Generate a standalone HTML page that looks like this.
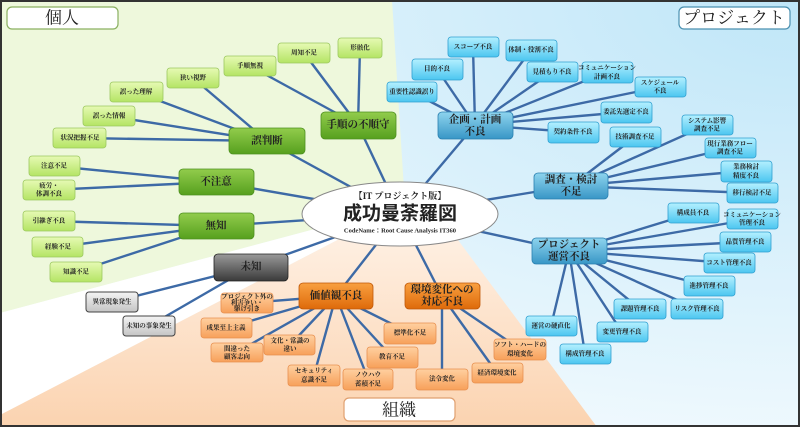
<!DOCTYPE html>
<html><head><meta charset="utf-8"><style>
html,body{margin:0;padding:0;background:#fff}
svg{display:block}
text{font-family:"Liberation Serif","Noto Serif CJK JP","Noto Serif CJK SC",serif;text-anchor:middle;dominant-baseline:central;fill:#222}
.s{font-size:6.5px;font-weight:bold}
.m{font-size:10.5px;font-weight:bold}
.L{font-size:17px}
.gs{fill:url(#gS);stroke:#9cc860;stroke-width:.8}
.gm{fill:url(#gM);stroke:#4e9020;stroke-width:.8}
.bs{fill:url(#bS);stroke:#30a0d0;stroke-width:.8}
.bm{fill:url(#bM);stroke:#2a80b0;stroke-width:.8}
.os{fill:url(#oS);stroke:#e89050;stroke-width:.8}
.om{fill:url(#oM);stroke:#c05808;stroke-width:.8}
.ys{fill:url(#yS);stroke:#444;stroke-width:1}
.ln line{stroke:#3d6aa6;stroke-width:2.4}
</style></head><body>
<svg width="800" height="427" viewBox="0 0 800 427" xmlns="http://www.w3.org/2000/svg">
<defs>
<linearGradient id="gS" x1="0" y1="0" x2="0" y2="1"><stop offset="0" stop-color="#e6fab4"/><stop offset="1" stop-color="#b4e464"/></linearGradient>
<linearGradient id="gM" x1="0" y1="0" x2="0" y2="1"><stop offset="0" stop-color="#92cc4c"/><stop offset="1" stop-color="#56a01e"/></linearGradient>
<linearGradient id="bS" x1="0" y1="0" x2="0" y2="1"><stop offset="0" stop-color="#b4f0ff"/><stop offset="1" stop-color="#4cc6f0"/></linearGradient>
<linearGradient id="bM" x1="0" y1="0" x2="0" y2="1"><stop offset="0" stop-color="#8ed4ee"/><stop offset="1" stop-color="#3896c6"/></linearGradient>
<linearGradient id="oS" x1="0" y1="0" x2="0" y2="1"><stop offset="0" stop-color="#ffd0a0"/><stop offset="1" stop-color="#f7a05a"/></linearGradient>
<linearGradient id="oM" x1="0" y1="0" x2="0" y2="1"><stop offset="0" stop-color="#f9a040"/><stop offset="1" stop-color="#de6a0a"/></linearGradient>
<linearGradient id="yS" x1="0" y1="0" x2="0" y2="1"><stop offset="0" stop-color="#f4f4f4"/><stop offset="1" stop-color="#c4c4c4"/></linearGradient>
<linearGradient id="kM" x1="0" y1="0" x2="0" y2="1"><stop offset="0" stop-color="#9a9a9a"/><stop offset="1" stop-color="#3a3a3a"/></linearGradient>
<radialGradient id="blue" cx="1" cy="0" r="1.1"><stop offset="0" stop-color="#bfe6f8"/><stop offset="1" stop-color="#f2fafe"/></radialGradient>
<linearGradient id="org" x1="0" y1="1" x2="0" y2="0"><stop offset="0" stop-color="#fbd3b0"/><stop offset="1" stop-color="#fff4ea"/></linearGradient>
</defs>
<rect width="800" height="427" fill="url(#blue)"/>
<polygon points="0,0 392,0 405,205 0,313" fill="#eef8dc"/>
<polygon points="0,313 405,205 0,415" fill="#ffffff"/>
<polygon points="0,415 405,205 432,205 597,427 0,427" fill="url(#org)"/>

<g class="ln">
<line x1="400" y1="214" x2="267" y2="141"/><line x1="400" y1="214" x2="358" y2="125"/>
<line x1="400" y1="214" x2="216" y2="182"/><line x1="400" y1="214" x2="216" y2="226"/>
<line x1="400" y1="214" x2="251" y2="267"/><line x1="400" y1="214" x2="336" y2="296"/>
<line x1="400" y1="214" x2="442" y2="296"/><line x1="400" y1="214" x2="475" y2="125"/>
<line x1="400" y1="214" x2="571" y2="186"/><line x1="400" y1="214" x2="569" y2="251"/>
<line x1="267" y1="141" x2="193" y2="78"/><line x1="267" y1="141" x2="136" y2="92"/>
<line x1="267" y1="141" x2="109" y2="116"/><line x1="267" y1="141" x2="80" y2="138"/>
<line x1="358" y1="125" x2="250" y2="66"/><line x1="358" y1="125" x2="304" y2="53"/><line x1="358" y1="125" x2="360" y2="48"/>
<line x1="216" y1="182" x2="54" y2="166"/><line x1="216" y1="182" x2="49" y2="190"/>
<line x1="216" y1="226" x2="49" y2="221"/><line x1="216" y1="226" x2="58" y2="247"/><line x1="216" y1="226" x2="76" y2="272"/>
<line x1="251" y1="267" x2="112" y2="302"/><line x1="251" y1="267" x2="149" y2="326"/>
<line x1="336" y1="296" x2="247" y2="303"/><line x1="336" y1="296" x2="226" y2="328"/>
<line x1="336" y1="296" x2="237" y2="352"/><line x1="336" y1="296" x2="290" y2="345"/>
<line x1="336" y1="296" x2="314" y2="375"/><line x1="336" y1="296" x2="368" y2="379"/>
<line x1="336" y1="296" x2="392" y2="357"/><line x1="336" y1="296" x2="410" y2="333"/>
<line x1="442" y1="296" x2="442" y2="379"/><line x1="442" y1="296" x2="497" y2="373"/><line x1="442" y1="296" x2="520" y2="349"/>
<line x1="475" y1="125" x2="473" y2="47"/><line x1="475" y1="125" x2="531" y2="50"/>
<line x1="475" y1="125" x2="437" y2="69"/><line x1="475" y1="125" x2="552" y2="72"/>
<line x1="475" y1="125" x2="607" y2="72"/><line x1="475" y1="125" x2="412" y2="92"/>
<line x1="475" y1="125" x2="660" y2="87"/><line x1="475" y1="125" x2="626" y2="112"/>
<line x1="475" y1="125" x2="573" y2="132"/>
<line x1="571" y1="186" x2="635" y2="137"/><line x1="571" y1="186" x2="707" y2="125"/>
<line x1="571" y1="186" x2="730" y2="148"/><line x1="571" y1="186" x2="746" y2="171"/>
<line x1="571" y1="186" x2="752" y2="193"/>
<line x1="569" y1="251" x2="693" y2="213"/><line x1="569" y1="251" x2="752" y2="219"/>
<line x1="569" y1="251" x2="745" y2="242"/><line x1="569" y1="251" x2="729" y2="263"/>
<line x1="569" y1="251" x2="709" y2="286"/><line x1="569" y1="251" x2="697" y2="309"/>
<line x1="569" y1="251" x2="640" y2="309"/><line x1="569" y1="251" x2="622" y2="332"/>
<line x1="569" y1="251" x2="551" y2="326"/><line x1="569" y1="251" x2="585" y2="354"/>
</g>

<rect x="7" y="7" width="111" height="22" rx="5" fill="#fff" stroke="#8ab060" stroke-width="1.2"/><text x="62" y="18" class="L">個人</text>
<rect x="679" y="7" width="111" height="22" rx="5" fill="#fff" stroke="#4a90b0" stroke-width="1.2"/><text x="734" y="18" class="L">プロジェクト</text>
<rect x="344" y="398" width="111" height="23" rx="5" fill="#fff" stroke="#e0a070" stroke-width="1.2"/><text x="399" y="410" class="L">組織</text>

<ellipse cx="400" cy="214" rx="98" ry="32" fill="#fff" stroke="#888" stroke-width="1"/>
<text x="400" y="196" style="font-size:9px;font-weight:bold">【IT プロジェクト版】</text>
<text x="400" y="214" style="font-size:19px;font-weight:bold;font-family:'Liberation Sans','Noto Sans CJK JP',sans-serif">成功曼荼羅図</text>
<text x="400" y="231" style="font-size:6.5px;font-weight:bold">CodeName：Root Cause Analysis IT360</text>

<rect class="gs" x="338" y="38" width="44" height="20" rx="3"/><text class="s" x="360" y="48">形骸化</text>
<rect class="gs" x="278" y="43" width="52" height="20" rx="3"/><text class="s" x="304" y="53">周知不足</text>
<rect class="gs" x="224" y="56" width="52" height="20" rx="3"/><text class="s" x="250" y="66">手順無視</text>
<rect class="gs" x="167" y="68" width="52" height="20" rx="3"/><text class="s" x="193" y="78">狭い視野</text>
<rect class="gs" x="110" y="82" width="53" height="20" rx="3"/><text class="s" x="136" y="92">誤った理解</text>
<rect class="gs" x="83" y="106" width="52" height="20" rx="3"/><text class="s" x="109" y="116">誤った情報</text>
<rect class="gs" x="53" y="128" width="53" height="20" rx="3"/><text class="s" x="80" y="138">状況把握不足</text>
<rect class="gs" x="29" y="156" width="51" height="20" rx="3"/><text class="s" x="54" y="166">注意不足</text>
<rect class="gs" x="23" y="180" width="52" height="20" rx="3"/><text class="s" x="49" y="186">疲労・</text><text class="s" x="49" y="194">体調不良</text>
<rect class="gs" x="23" y="211" width="52" height="20" rx="3"/><text class="s" x="49" y="221">引継ぎ不良</text>
<rect class="gs" x="32" y="237" width="51" height="20" rx="3"/><text class="s" x="58" y="247">経験不足</text>
<rect class="gs" x="50" y="262" width="52" height="20" rx="3"/><text class="s" x="76" y="272">知識不足</text>
<rect class="gm" x="229" y="128" width="76" height="26" rx="4"/><text class="m" x="267" y="141">誤判断</text>
<rect class="gm" x="321" y="112" width="75" height="27" rx="4"/><text class="m" x="358" y="125">手順の不順守</text>
<rect class="gm" x="179" y="169" width="75" height="26" rx="4"/><text class="m" x="216" y="182">不注意</text>
<rect class="gm" x="179" y="213" width="75" height="26" rx="4"/><text class="m" x="216" y="226">無知</text>
<rect x="214" y="254" width="74" height="27" rx="4" fill="url(#kM)" stroke="#222" stroke-width=".8"/><text class="m" x="251" y="267">未知</text>
<rect class="ys" x="86" y="292" width="52" height="20" rx="3"/><text class="s" x="112" y="302">異常現象発生</text>
<rect class="ys" x="123" y="316" width="52" height="20" rx="3"/><text class="s" x="149" y="326">未知の事象発生</text>

<rect class="om" x="299" y="283" width="74" height="26" rx="4"/><text class="m" x="336" y="296">価値観不良</text>
<rect class="om" x="405" y="283" width="75" height="26" rx="4"/><text class="m" x="442" y="290">環境変化への</text><text class="m" x="442" y="302">対応不良</text>
<rect class="os" x="221" y="293" width="52" height="20" rx="3"/><text class="s" x="247" y="297">プロジェクト外の</text><text class="s" x="247" y="303">利害争い・</text><text class="s" x="247" y="309">駆け引き</text>
<rect class="os" x="201" y="318" width="51" height="20" rx="3"/><text class="s" x="226" y="328">成果至上主義</text>
<rect class="os" x="211" y="343" width="52" height="19" rx="3"/><text class="s" x="237" y="349">間違った</text><text class="s" x="237" y="357">顧客志向</text>
<rect class="os" x="264" y="335" width="51" height="20" rx="3"/><text class="s" x="290" y="341">文化・常識の</text><text class="s" x="290" y="349">違い</text>
<rect class="os" x="288" y="365" width="52" height="21" rx="3"/><text class="s" x="314" y="371">セキュリティ</text><text class="s" x="314" y="380">意識不足</text>
<rect class="os" x="343" y="369" width="50" height="21" rx="3"/><text class="s" x="368" y="375">ノウハウ</text><text class="s" x="368" y="384">蓄積不足</text>
<rect class="os" x="367" y="347" width="51" height="21" rx="3"/><text class="s" x="392" y="357">教育不足</text>
<rect class="os" x="384" y="323" width="52" height="21" rx="3"/><text class="s" x="410" y="333">標準化不足</text>
<rect class="os" x="416" y="369" width="52" height="21" rx="3"/><text class="s" x="442" y="379">法令変化</text>
<rect class="os" x="472" y="363" width="51" height="20" rx="3"/><text class="s" x="497" y="373">経済環境変化</text>
<rect class="os" x="494" y="339" width="52" height="21" rx="3"/><text class="s" x="520" y="345">ソフト・ハードの</text><text class="s" x="520" y="354">環境変化</text>

<rect class="bm" x="438" y="112" width="75" height="27" rx="4"/><text class="m" x="475" y="120">企画・計画</text><text class="m" x="475" y="132">不良</text>
<rect class="bm" x="534" y="173" width="74" height="26" rx="4"/><text class="m" x="571" y="180">調査・検討</text><text class="m" x="571" y="192">不足</text>
<rect class="bm" x="532" y="238" width="75" height="26" rx="4"/><text class="m" x="569" y="245">プロジェクト</text><text class="m" x="569" y="257">運営不良</text>
<rect class="bs" x="448" y="37" width="51" height="20" rx="3"/><text class="s" x="473" y="47">スコープ不良</text>
<rect class="bs" x="506" y="40" width="51" height="21" rx="3"/><text class="s" x="531" y="50">体制・役割不良</text>
<rect class="bs" x="412" y="59" width="51" height="21" rx="3"/><text class="s" x="437" y="69">目的不良</text>
<rect class="bs" x="527" y="62" width="51" height="20" rx="3"/><text class="s" x="552" y="72">見積もり不良</text>
<rect class="bs" x="582" y="62" width="51" height="21" rx="3"/><text class="s" x="607" y="68">コミュニケーション</text><text class="s" x="607" y="77">計画不良</text>
<rect class="bs" x="387" y="82" width="50" height="20" rx="3"/><text class="s" x="412" y="92">重要性認識誤り</text>
<rect class="bs" x="635" y="77" width="51" height="20" rx="3"/><text class="s" x="660" y="83">スケジュール</text><text class="s" x="660" y="91">不良</text>
<rect class="bs" x="601" y="102" width="51" height="21" rx="3"/><text class="s" x="626" y="112">委託先選定不良</text>
<rect class="bs" x="548" y="122" width="51" height="21" rx="3"/><text class="s" x="573" y="132">契約条件不良</text>
<rect class="bs" x="610" y="127" width="51" height="20" rx="3"/><text class="s" x="635" y="137">技術調査不足</text>
<rect class="bs" x="682" y="115" width="51" height="20" rx="3"/><text class="s" x="707" y="121">システム影響</text><text class="s" x="707" y="129">調査不足</text>
<rect class="bs" x="705" y="138" width="51" height="20" rx="3"/><text class="s" x="730" y="144">現行業務フロー</text><text class="s" x="730" y="152">調査不足</text>
<rect class="bs" x="721" y="161" width="51" height="21" rx="3"/><text class="s" x="746" y="167">業務検討</text><text class="s" x="746" y="176">精度不良</text>
<rect class="bs" x="727" y="183" width="51" height="20" rx="3"/><text class="s" x="752" y="193">移行検討不足</text>
<rect class="bs" x="668" y="203" width="51" height="20" rx="3"/><text class="s" x="693" y="213">構成員不良</text>
<rect class="bs" x="727" y="209" width="51" height="20" rx="3"/><text class="s" x="752" y="215">コミュニケーション</text><text class="s" x="752" y="223">管理不良</text>
<rect class="bs" x="720" y="232" width="51" height="20" rx="3"/><text class="s" x="745" y="242">品質管理不良</text>
<rect class="bs" x="704" y="253" width="51" height="20" rx="3"/><text class="s" x="729" y="263">コスト管理不良</text>
<rect class="bs" x="684" y="276" width="51" height="20" rx="3"/><text class="s" x="709" y="286">進捗管理不良</text>
<rect class="bs" x="671" y="299" width="52" height="20" rx="3"/><text class="s" x="697" y="309">リスク管理不良</text>
<rect class="bs" x="614" y="299" width="52" height="20" rx="3"/><text class="s" x="640" y="309">課題管理不良</text>
<rect class="bs" x="597" y="322" width="51" height="20" rx="3"/><text class="s" x="622" y="332">変更管理不良</text>
<rect class="bs" x="526" y="316" width="51" height="20" rx="3"/><text class="s" x="551" y="326">運営の硬直化</text>
<rect class="bs" x="560" y="344" width="51" height="20" rx="3"/><text class="s" x="585" y="354">構成管理不良</text>

<rect x="1" y="1" width="798" height="425" fill="none" stroke="#333" stroke-width="2"/>
</svg>
</body></html>
